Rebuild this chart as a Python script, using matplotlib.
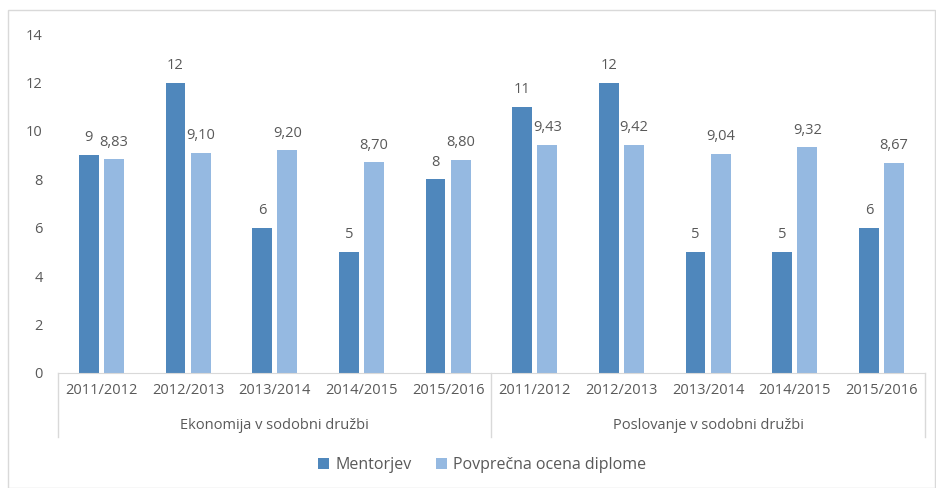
import matplotlib.pyplot as plt
from matplotlib.patches import Rectangle
import numpy as np

# podatki
leta = ['2011/2012', '2012/2013', '2013/2014', '2014/2015', '2015/2016'] * 2
skupine = ['Ekonomija v sodobni družbi', 'Poslovanje v sodobni družbi']
mentorjev = [9, 12, 6, 5, 8, 11, 12, 5, 5, 6]
ocena = [8.83, 9.10, 9.20, 8.70, 8.80, 9.43, 9.42, 9.04, 9.32, 8.67]

temna = '#4f87bc'
svetla = '#95b9e1'
siva = '#595959'
plt.rcParams['font.family'] = ['Open Sans', 'DejaVu Sans']
plt.rcParams['font.size'] = 10.5

fig = plt.figure(figsize=(9.36, 4.88), dpi=100)
ax = fig.add_axes([0.062, 0.2357, 0.926, 0.6943])

x = np.arange(len(leta))
w = 0.23
b1 = ax.bar(x - 0.145, mentorjev, w, color=temna, label='Mentorjev')
b2 = ax.bar(x + 0.145, ocena, w, color=svetla, label='Povprečna ocena diplome')

for r, v in zip(b1, mentorjev):
    ax.annotate(str(v), (r.get_x() + r.get_width() / 2, v), xytext=(0, 7),
                textcoords='offset points', ha='center', va='bottom', color=siva)
for r, v in zip(b2, ocena):
    ax.annotate(f'{v:.2f}'.replace('.', ','), (r.get_x() + r.get_width() / 2, v),
                xytext=(0, 7), textcoords='offset points', ha='center', va='bottom', color=siva)

ax.set_xlim(-0.5, 9.5)
ax.set_ylim(0, 14)
ax.set_yticks(range(0, 15, 2))
ax.set_xticks(x)
ax.set_xticklabels(leta, color=siva)
ax.tick_params(axis='y', length=0, pad=11, colors=siva)
ax.tick_params(axis='x', length=0, pad=7, colors=siva)
for s in ['top', 'right', 'left']:
    ax.spines[s].set_visible(False)
ax.spines['bottom'].set_color('#d9d9d9')

# ločnice med skupinami
tr = ax.get_xaxis_transform()
for xv in [-0.5, 4.5, 9.5]:
    ax.plot([xv, xv], [0, -0.189], transform=tr, color='#d9d9d9', lw=1, clip_on=False)
for i, s in enumerate(skupine):
    ax.text(2 + 5 * i, -0.155, s, transform=tr, ha='center', va='center', color=siva)

fig.legend(loc='center', bbox_to_anchor=(0.515, 1 - 465 / 488), ncol=2, frameon=False,
           handlelength=0.7, handleheight=0.7, handletextpad=0.4, columnspacing=1.5,
           labelcolor=siva, fontsize=11.5)

fig.patches.append(Rectangle((8 / 936, 0), 1 - 8 / 936 - 0.001, 1 - 10 / 488,
                             transform=fig.transFigure, fill=False, ec='#d9d9d9', lw=1))

fig.savefig('out.png')
